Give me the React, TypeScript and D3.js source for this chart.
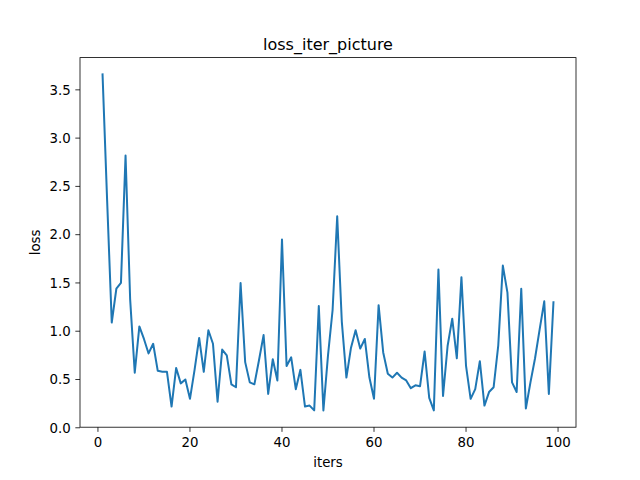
import React from "react";
import * as d3 from "d3";

const lossValues: number[] = [
  3.66, 2.35, 1.09, 1.44, 1.5, 2.82, 1.33, 0.57, 1.05, 0.92,
  0.77, 0.87, 0.59, 0.58, 0.58, 0.22, 0.62, 0.46, 0.5, 0.3,
  0.6, 0.93, 0.58, 1.01, 0.87, 0.27, 0.81, 0.75, 0.45, 0.42,
  1.5, 0.68, 0.47, 0.45, 0.7, 0.96, 0.35, 0.71, 0.49, 1.95,
  0.64, 0.73, 0.4, 0.6, 0.22, 0.23, 0.18, 1.26, 0.18, 0.75,
  1.22, 2.19, 1.1, 0.52, 0.83, 1.01, 0.82, 0.92, 0.52, 0.3,
  1.27, 0.78, 0.56, 0.52, 0.57, 0.52, 0.49, 0.41, 0.44, 0.43,
  0.79, 0.31, 0.18, 1.64, 0.33, 0.85, 1.13, 0.72, 1.56, 0.64,
  0.3, 0.4, 0.69, 0.23, 0.37, 0.42, 0.85, 1.68, 1.4, 0.47,
  0.37, 1.44, 0.2, 0.47, 0.72, 1.02, 1.31, 0.35, 1.3,
];
const iters: number[] = lossValues.map((_, i) => i + 1);
const xTicks: number[] = [0, 20, 40, 60, 80, 100];
const yTicks: number[] = [0, 0.5, 1, 1.5, 2, 2.5, 3, 3.5];
const titleText = "loss_iter_picture";
const xLabelText = "iters";
const yLabelText = "loss";

const W = 640;
const H = 480;
const left = 80;
const right = 576;
const top = 57.6;
const bottom = 427.2;
const font = "DejaVu Sans, sans-serif";

export default function App() {
  const [xmin, xmax] = d3.extent(iters) as [number, number];
  const xpad = (xmax - xmin) * 0.05;
  const [ymin, ymax] = d3.extent(lossValues) as [number, number];
  const ypad = (ymax - ymin) * 0.05;
  const x = d3.scaleLinear().domain([xmin - xpad, xmax + xpad]).range([left, right]);
  const y = d3.scaleLinear().domain([ymin - ypad, ymax + ypad]).range([bottom, top]);
  const line = d3
    .line<number>()
    .x((_, i) => x(iters[i]))
    .y((d) => y(d));
  const tickLen = 4.67;
  return (
    <svg
      width={W}
      height={H}
      style={{ position: "absolute", left: 0, top: 0, background: "#fff" }}
      fontFamily={font}
    >
      <rect x={0} y={0} width={W} height={H} fill="#fff" />
      <path
        d={line(lossValues) || ""}
        fill="none"
        stroke="#1f77b4"
        strokeWidth={2}
        strokeLinejoin="round"
        strokeLinecap="square"
      />
      <rect
        x={left}
        y={top}
        width={right - left}
        height={bottom - top}
        fill="none"
        stroke="#000"
        strokeWidth={0.8}
      />
      {xTicks.map((t) => (
        <g key={"x" + t}>
          <line x1={x(t)} x2={x(t)} y1={bottom} y2={bottom + tickLen} stroke="#000" strokeWidth={0.8} />
          <text x={x(t)} y={bottom + 19.5} fontSize={13.33} textAnchor="middle" fill="#000">
            {t}
          </text>
        </g>
      ))}
      {yTicks.map((t) => (
        <g key={"y" + t}>
          <line x1={left - tickLen} x2={left} y1={y(t)} y2={y(t)} stroke="#000" strokeWidth={0.8} />
          <text
            x={left - 9.3}
            y={y(t) + 4.8}
            fontSize={13.33}
            textAnchor="end"
            fill="#000"
          >
            {t.toFixed(1)}
          </text>
        </g>
      ))}
      <text x={(left + right) / 2} y={top - 8} fontSize={16} textAnchor="middle" fill="#000">
        {titleText}
      </text>
      <text x={(left + right) / 2} y={467} fontSize={13.33} textAnchor="middle" fill="#000">
        {xLabelText}
      </text>
      <text
        transform={`translate(40, ${(top + bottom) / 2}) rotate(-90)`}
        fontSize={13.33}
        textAnchor="middle"
        fill="#000"
      >
        {yLabelText}
      </text>
    </svg>
  );
}
